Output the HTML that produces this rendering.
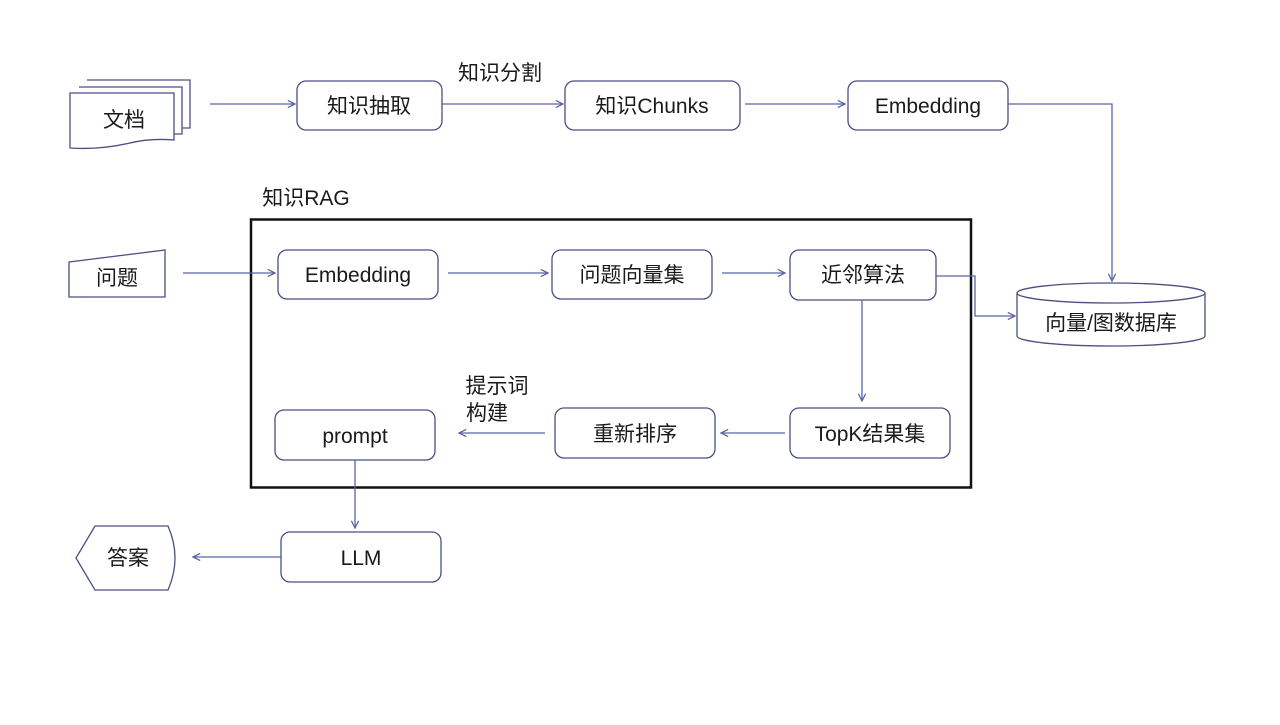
<!DOCTYPE html>
<html><head><meta charset="utf-8"><style>
html,body{margin:0;padding:0;background:#fff}
svg text{font-family:"Liberation Sans","Noto Sans CJK SC",sans-serif;fill:#1a1a1a}
</style></head><body>
<svg width="1280" height="720" viewBox="0 0 1280 720" xmlns="http://www.w3.org/2000/svg">
<defs>
<marker id="a" viewBox="0 0 10 10" refX="9" refY="5" markerWidth="9" markerHeight="9" orient="auto" markerUnits="userSpaceOnUse">
<path d="M1,1 L9,5 L1,9" fill="none" stroke="#5a64a8" stroke-width="1.4"/></marker>
</defs>
<g fill="#fff" stroke="#4a5080" stroke-width="1.3">
<!-- document stack -->
<path d="M87,80 H190 V128 H178"/>
<path d="M79,87 H182 V134 H172"/>
<path d="M70,93 H174 V140 Q150,138 130,143 Q100,150 70,148 Z"/>
<!-- question -->
<path d="M69,262 L165,250 V297 H69 Z"/>
<!-- answer -->
<path d="M95,526 H168 Q182,558 168,590 H95 L76,558 Z"/>
<!-- boxes -->
<rect x="297" y="81" width="145" height="49" rx="9"/>
<rect x="565" y="81" width="175" height="49" rx="9"/>
<rect x="848" y="81" width="160" height="49" rx="9"/>
<rect x="278" y="250" width="160" height="49" rx="9"/>
<rect x="552" y="250" width="160" height="49" rx="9"/>
<rect x="790" y="250" width="146" height="50" rx="9"/>
<rect x="790" y="408" width="160" height="50" rx="9"/>
<rect x="555" y="408" width="160" height="50" rx="9"/>
<rect x="275" y="410" width="160" height="50" rx="9"/>
<rect x="281" y="532" width="160" height="50" rx="9"/>
<!-- cylinder -->
<path d="M1017,293 V336 A94,10 0 0 0 1205,336 V293"/>
<ellipse cx="1111" cy="293" rx="94" ry="10"/>
</g>
<rect x="251" y="219.5" width="720" height="268" fill="none" stroke="#111" stroke-width="2.5"/>
<g fill="none" stroke="#5a64a8" stroke-width="1.3" marker-end="url(#a)">
<path d="M210,104 H295"/>
<path d="M442,104 H563"/>
<path d="M745,104 H845"/>
<path d="M1008,104 H1112 V281"/>
<path d="M183,273 H275"/>
<path d="M448,273 H548"/>
<path d="M722,273 H785"/>
<path d="M936,276 H975 V316 H1015"/>
<path d="M862,300 V401"/>
<path d="M785,433 H721"/>
<path d="M545,433 H459"/>
<path d="M355,460 V528"/>
<path d="M281,557 H193"/>
</g>
<g font-size="21" text-anchor="middle">
<text x="124" y="127">文档</text>
<text x="117" y="285">问题</text>
<text x="128" y="565">答案</text>
<text x="369" y="113">知识抽取</text>
<text x="652" y="113">知识Chunks</text>
<text x="928" y="113">Embedding</text>
<text x="358" y="282">Embedding</text>
<text x="632" y="282">问题向量集</text>
<text x="863" y="282">近邻算法</text>
<text x="870" y="441">TopK结果集</text>
<text x="635" y="441">重新排序</text>
<text x="355" y="443">prompt</text>
<text x="361" y="565">LLM</text>
<text x="1111" y="330">向量/图数据库</text>
<text x="500" y="80">知识分割</text>
<text x="306" y="205">知识RAG</text>
<text x="497" y="393">提示词</text>
<text x="487" y="420">构建</text>
</g>
</svg>
</body></html>
